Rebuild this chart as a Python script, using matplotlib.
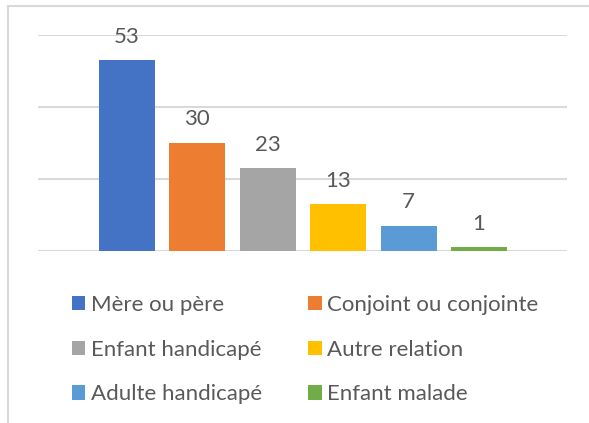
import matplotlib
matplotlib.use("Agg")
import matplotlib.pyplot as plt
from matplotlib.lines import Line2D
from matplotlib.patches import Patch

# data
categories = ["Mère ou père", "Conjoint ou conjointe", "Enfant handicapé",
              "Autre relation", "Adulte handicapé", "Enfant malade"]
values = [53, 30, 23, 13, 7, 1]
colors = ["#4472C4", "#ED7D31", "#A5A5A5", "#FFC000", "#5B9BD5", "#70AD47"]
y_ticks = [0, 20, 40, 60]

plt.rcParams['font.family'] = ['Lato', 'DejaVu Sans']
text_col = "#595959"
grid_col = "#D9D9D9"

fig = plt.figure(figsize=(5.89, 4.23), dpi=100)
ax = fig.add_axes([38 / 589, 172 / 423, 529 / 589, 216 / 423])

x = list(range(len(values)))
bars = ax.bar(x, values, width=0.795, color=colors, zorder=3)

for xi, v in zip(x, values):
    ax.annotate(str(v), (xi, v), xytext=(0, 17), textcoords="offset points",
                ha="center", va="center", fontsize=16, color=text_col)

ax.set_xlim(-1.264, 6.25)
ax.set_ylim(0, 60)
ax.set_yticks(y_ticks)
ax.set_xticks([])
ax.tick_params(left=False, labelleft=False)
ax.yaxis.grid(True, color=grid_col, linewidth=1.5, zorder=0)
for s in ax.spines.values():
    s.set_visible(False)

# legend, row-wise order
handles = [Patch(facecolor=c) for c in colors]
order = [0, 2, 4, 1, 3, 5]
fig.legend([handles[i] for i in order], [categories[i] for i in order],
           ncol=2, loc="upper left", bbox_to_anchor=(72 / 589, 1 - 295 / 423),
           frameon=False, fontsize=16, labelcolor=text_col,
           handlelength=0.6, handleheight=0.6, handletextpad=0.25,
           columnspacing=2.08, labelspacing=1.11, borderpad=0, borderaxespad=0)

# chart area border (top and left visible)
fig.add_artist(Line2D([8 / 589, 1], [1 - 6 / 423, 1 - 6 / 423], color=grid_col, linewidth=1.5))
fig.add_artist(Line2D([8 / 589, 8 / 589], [0, 1 - 6 / 423], color=grid_col, linewidth=1.5))

fig.savefig("out.png", dpi=100)
